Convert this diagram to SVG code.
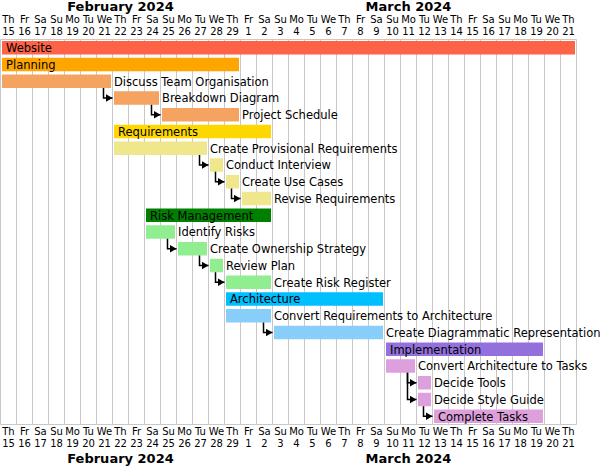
<svg xmlns="http://www.w3.org/2000/svg" width="600" height="466" viewBox="0 0 600 466">
<style>
text{font-family:"DejaVu Sans","Liberation Sans",sans-serif;fill:#000}
.mon{font-size:13px;font-weight:bold;text-anchor:middle}
.day{font-size:10px;text-anchor:middle}
.lbl{font-size:11.5px}
.grid line{stroke:#c8c8c8;stroke-width:1}
.dep path{fill:none;stroke:#000;stroke-width:1.5}
</style>
<defs>
<marker id="ah" markerUnits="userSpaceOnUse" markerWidth="7" markerHeight="8" refX="7" refY="4" orient="auto" viewBox="0 0 7 8">
<path d="M0,0 L7,4 L0,8 z" fill="#000"/>
</marker>
</defs>
<rect width="600" height="466" fill="#fff"/>
<g class="grid">
<line x1="0.5" y1="39.5" x2="576.5" y2="39.5"/>
<line x1="0.5" y1="424.5" x2="576.5" y2="424.5"/>
<line x1="0.5" y1="39.5" x2="0.5" y2="424.5"/>
<line x1="16.5" y1="39.5" x2="16.5" y2="424.5"/>
<line x1="32.5" y1="39.5" x2="32.5" y2="424.5"/>
<line x1="48.5" y1="39.5" x2="48.5" y2="424.5"/>
<line x1="64.5" y1="39.5" x2="64.5" y2="424.5"/>
<line x1="80.5" y1="39.5" x2="80.5" y2="424.5"/>
<line x1="96.5" y1="39.5" x2="96.5" y2="424.5"/>
<line x1="112.5" y1="39.5" x2="112.5" y2="424.5"/>
<line x1="128.5" y1="39.5" x2="128.5" y2="424.5"/>
<line x1="144.5" y1="39.5" x2="144.5" y2="424.5"/>
<line x1="160.5" y1="39.5" x2="160.5" y2="424.5"/>
<line x1="176.5" y1="39.5" x2="176.5" y2="424.5"/>
<line x1="192.5" y1="39.5" x2="192.5" y2="424.5"/>
<line x1="208.5" y1="39.5" x2="208.5" y2="424.5"/>
<line x1="224.5" y1="39.5" x2="224.5" y2="424.5"/>
<line x1="240.5" y1="39.5" x2="240.5" y2="424.5"/>
<line x1="256.5" y1="39.5" x2="256.5" y2="424.5"/>
<line x1="272.5" y1="39.5" x2="272.5" y2="424.5"/>
<line x1="288.5" y1="39.5" x2="288.5" y2="424.5"/>
<line x1="304.5" y1="39.5" x2="304.5" y2="424.5"/>
<line x1="320.5" y1="39.5" x2="320.5" y2="424.5"/>
<line x1="336.5" y1="39.5" x2="336.5" y2="424.5"/>
<line x1="352.5" y1="39.5" x2="352.5" y2="424.5"/>
<line x1="368.5" y1="39.5" x2="368.5" y2="424.5"/>
<line x1="384.5" y1="39.5" x2="384.5" y2="424.5"/>
<line x1="400.5" y1="39.5" x2="400.5" y2="424.5"/>
<line x1="416.5" y1="39.5" x2="416.5" y2="424.5"/>
<line x1="432.5" y1="39.5" x2="432.5" y2="424.5"/>
<line x1="448.5" y1="39.5" x2="448.5" y2="424.5"/>
<line x1="464.5" y1="39.5" x2="464.5" y2="424.5"/>
<line x1="480.5" y1="39.5" x2="480.5" y2="424.5"/>
<line x1="496.5" y1="39.5" x2="496.5" y2="424.5"/>
<line x1="512.5" y1="39.5" x2="512.5" y2="424.5"/>
<line x1="528.5" y1="39.5" x2="528.5" y2="424.5"/>
<line x1="544.5" y1="39.5" x2="544.5" y2="424.5"/>
<line x1="560.5" y1="39.5" x2="560.5" y2="424.5"/>
<line x1="576.5" y1="39.5" x2="576.5" y2="424.5"/>
</g>
<g id="axis-top">
<text class="mon" x="120.5" y="11">February 2024</text>
<text class="mon" x="408.5" y="11">March 2024</text>
<text class="day" y="23"><tspan x="8.5">Th</tspan><tspan x="24.5">Fr</tspan><tspan x="40.5">Sa</tspan><tspan x="56.5">Su</tspan><tspan x="72.5">Mo</tspan><tspan x="88.5">Tu</tspan><tspan x="104.5">We</tspan><tspan x="120.5">Th</tspan><tspan x="136.5">Fr</tspan><tspan x="152.5">Sa</tspan><tspan x="168.5">Su</tspan><tspan x="184.5">Mo</tspan><tspan x="200.5">Tu</tspan><tspan x="216.5">We</tspan><tspan x="232.5">Th</tspan><tspan x="248.5">Fr</tspan><tspan x="264.5">Sa</tspan><tspan x="280.5">Su</tspan><tspan x="296.5">Mo</tspan><tspan x="312.5">Tu</tspan><tspan x="328.5">We</tspan><tspan x="344.5">Th</tspan><tspan x="360.5">Fr</tspan><tspan x="376.5">Sa</tspan><tspan x="392.5">Su</tspan><tspan x="408.5">Mo</tspan><tspan x="424.5">Tu</tspan><tspan x="440.5">We</tspan><tspan x="456.5">Th</tspan><tspan x="472.5">Fr</tspan><tspan x="488.5">Sa</tspan><tspan x="504.5">Su</tspan><tspan x="520.5">Mo</tspan><tspan x="536.5">Tu</tspan><tspan x="552.5">We</tspan><tspan x="568.5">Th</tspan></text>
<text class="day" y="35"><tspan x="8.5">15</tspan><tspan x="24.5">16</tspan><tspan x="40.5">17</tspan><tspan x="56.5">18</tspan><tspan x="72.5">19</tspan><tspan x="88.5">20</tspan><tspan x="104.5">21</tspan><tspan x="120.5">22</tspan><tspan x="136.5">23</tspan><tspan x="152.5">24</tspan><tspan x="168.5">25</tspan><tspan x="184.5">26</tspan><tspan x="200.5">27</tspan><tspan x="216.5">28</tspan><tspan x="232.5">29</tspan><tspan x="248.5">1</tspan><tspan x="264.5">2</tspan><tspan x="280.5">3</tspan><tspan x="296.5">4</tspan><tspan x="312.5">5</tspan><tspan x="328.5">6</tspan><tspan x="344.5">7</tspan><tspan x="360.5">8</tspan><tspan x="376.5">9</tspan><tspan x="392.5">10</tspan><tspan x="408.5">11</tspan><tspan x="424.5">12</tspan><tspan x="440.5">13</tspan><tspan x="456.5">14</tspan><tspan x="472.5">15</tspan><tspan x="488.5">16</tspan><tspan x="504.5">17</tspan><tspan x="520.5">18</tspan><tspan x="536.5">19</tspan><tspan x="552.5">20</tspan><tspan x="568.5">21</tspan></text>
</g>
<g id="axis-bottom">
<text class="day" y="435"><tspan x="8.5">Th</tspan><tspan x="24.5">Fr</tspan><tspan x="40.5">Sa</tspan><tspan x="56.5">Su</tspan><tspan x="72.5">Mo</tspan><tspan x="88.5">Tu</tspan><tspan x="104.5">We</tspan><tspan x="120.5">Th</tspan><tspan x="136.5">Fr</tspan><tspan x="152.5">Sa</tspan><tspan x="168.5">Su</tspan><tspan x="184.5">Mo</tspan><tspan x="200.5">Tu</tspan><tspan x="216.5">We</tspan><tspan x="232.5">Th</tspan><tspan x="248.5">Fr</tspan><tspan x="264.5">Sa</tspan><tspan x="280.5">Su</tspan><tspan x="296.5">Mo</tspan><tspan x="312.5">Tu</tspan><tspan x="328.5">We</tspan><tspan x="344.5">Th</tspan><tspan x="360.5">Fr</tspan><tspan x="376.5">Sa</tspan><tspan x="392.5">Su</tspan><tspan x="408.5">Mo</tspan><tspan x="424.5">Tu</tspan><tspan x="440.5">We</tspan><tspan x="456.5">Th</tspan><tspan x="472.5">Fr</tspan><tspan x="488.5">Sa</tspan><tspan x="504.5">Su</tspan><tspan x="520.5">Mo</tspan><tspan x="536.5">Tu</tspan><tspan x="552.5">We</tspan><tspan x="568.5">Th</tspan></text>
<text class="day" y="447"><tspan x="8.5">15</tspan><tspan x="24.5">16</tspan><tspan x="40.5">17</tspan><tspan x="56.5">18</tspan><tspan x="72.5">19</tspan><tspan x="88.5">20</tspan><tspan x="104.5">21</tspan><tspan x="120.5">22</tspan><tspan x="136.5">23</tspan><tspan x="152.5">24</tspan><tspan x="168.5">25</tspan><tspan x="184.5">26</tspan><tspan x="200.5">27</tspan><tspan x="216.5">28</tspan><tspan x="232.5">29</tspan><tspan x="248.5">1</tspan><tspan x="264.5">2</tspan><tspan x="280.5">3</tspan><tspan x="296.5">4</tspan><tspan x="312.5">5</tspan><tspan x="328.5">6</tspan><tspan x="344.5">7</tspan><tspan x="360.5">8</tspan><tspan x="376.5">9</tspan><tspan x="392.5">10</tspan><tspan x="408.5">11</tspan><tspan x="424.5">12</tspan><tspan x="440.5">13</tspan><tspan x="456.5">14</tspan><tspan x="472.5">15</tspan><tspan x="488.5">16</tspan><tspan x="504.5">17</tspan><tspan x="520.5">18</tspan><tspan x="536.5">19</tspan><tspan x="552.5">20</tspan><tspan x="568.5">21</tspan></text>
<text class="mon" x="120.5" y="463">February 2024</text>
<text class="mon" x="408.5" y="463">March 2024</text>
</g>
<g id="website"><rect x="2" y="41" width="573" height="13.5" fill="#FF6347"/><text class="lbl" x="6" y="52">Website</text></g>
<g id="planning"><rect x="2" y="57.75" width="237" height="13.5" fill="#FFA500"/><text class="lbl" x="6" y="68.75">Planning</text></g>
<g id="discuss"><rect x="2" y="74.5" width="109" height="13.5" fill="#F4A460"/><text class="lbl" x="114" y="85.5">Discuss Team Organisation</text></g>
<g id="breakdown"><rect x="114" y="91.25" width="45" height="13.5" fill="#F4A460"/><text class="lbl" x="162" y="102.25">Breakdown Diagram</text></g>
<g id="schedule"><rect x="162" y="108" width="77" height="13.5" fill="#F4A460"/><text class="lbl" x="242" y="119">Project Schedule</text></g>
<g id="requirements"><rect x="114" y="124.75" width="157" height="13.5" fill="#FFD700"/><text class="lbl" x="118" y="135.75">Requirements</text></g>
<g id="provisional"><rect x="114" y="141.5" width="93" height="13.5" fill="#F0E68C"/><text class="lbl" x="210" y="152.5">Create Provisional Requirements</text></g>
<g id="interview"><rect x="210" y="158.25" width="13" height="13.5" fill="#F0E68C"/><text class="lbl" x="226" y="169.25">Conduct Interview</text></g>
<g id="usecases"><rect x="226" y="175" width="13" height="13.5" fill="#F0E68C"/><text class="lbl" x="242" y="186">Create Use Cases</text></g>
<g id="revise"><rect x="242" y="191.75" width="29" height="13.5" fill="#F0E68C"/><text class="lbl" x="274" y="202.75">Revise Requirements</text></g>
<g id="risk"><rect x="146" y="208.5" width="125" height="13.5" fill="#008000"/><text class="lbl" x="150" y="219.5">Risk Management</text></g>
<g id="identify"><rect x="146" y="225.25" width="29" height="13.5" fill="#90EE90"/><text class="lbl" x="178" y="236.25">Identify Risks</text></g>
<g id="ownership"><rect x="178" y="242" width="29" height="13.5" fill="#90EE90"/><text class="lbl" x="210" y="253">Create Ownership Strategy</text></g>
<g id="review"><rect x="210" y="258.75" width="13" height="13.5" fill="#90EE90"/><text class="lbl" x="226" y="269.75">Review Plan</text></g>
<g id="register"><rect x="226" y="275.5" width="45" height="13.5" fill="#90EE90"/><text class="lbl" x="274" y="286.5">Create Risk Register</text></g>
<g id="architecture"><rect x="226" y="292.25" width="157" height="13.5" fill="#00BFFF"/><text class="lbl" x="230" y="303.25">Architecture</text></g>
<g id="convreq"><rect x="226" y="309" width="45" height="13.5" fill="#87CEFA"/><text class="lbl" x="274" y="320">Convert Requirements to Architecture</text></g>
<g id="diagram"><rect x="274" y="325.75" width="109" height="13.5" fill="#87CEFA"/><text class="lbl" x="386" y="336.75">Create Diagrammatic Representation</text></g>
<g id="implementation"><rect x="386" y="342.5" width="157" height="13.5" fill="#9370DB"/><text class="lbl" x="390" y="353.5">Implementation</text></g>
<g id="convarch"><rect x="386" y="359.25" width="29" height="13.5" fill="#DDA0DD"/><text class="lbl" x="418" y="370.25">Convert Architecture to Tasks</text></g>
<g id="tools"><rect x="418" y="376" width="13" height="13.5" fill="#DDA0DD"/><text class="lbl" x="434" y="387">Decide Tools</text></g>
<g id="style"><rect x="418" y="392.75" width="13" height="13.5" fill="#DDA0DD"/><text class="lbl" x="434" y="403.75">Decide Style Guide</text></g>
<g id="complete"><rect x="434" y="409.5" width="109" height="13.5" fill="#DDA0DD"/><text class="lbl" x="438" y="420.5">Complete Tasks</text></g>
<g class="dep" id="connectors">
<path d="M103.5,88 V98 H112.5" marker-end="url(#ah)"/>
<path d="M151.5,104.75 V114.75 H160.5" marker-end="url(#ah)"/>
<path d="M199.5,155 V165 H208.5" marker-end="url(#ah)"/>
<path d="M215.5,171.75 V181.75 H224.5" marker-end="url(#ah)"/>
<path d="M231.5,188.5 V198.5 H240.5" marker-end="url(#ah)"/>
<path d="M167.5,238.75 V248.75 H176.5" marker-end="url(#ah)"/>
<path d="M199.5,255.5 V265.5 H208.5" marker-end="url(#ah)"/>
<path d="M215.5,272.25 V282.25 H224.5" marker-end="url(#ah)"/>
<path d="M263.5,322.5 V332.5 H272.5" marker-end="url(#ah)"/>
<path d="M407.5,372.75 V382.75 H416.5" marker-end="url(#ah)"/>
<path d="M407.5,372.75 V399.5 H416.5" marker-end="url(#ah)"/>
<path d="M423.5,406.25 V416.25 H432.5" marker-end="url(#ah)"/>
</g>
</svg>
